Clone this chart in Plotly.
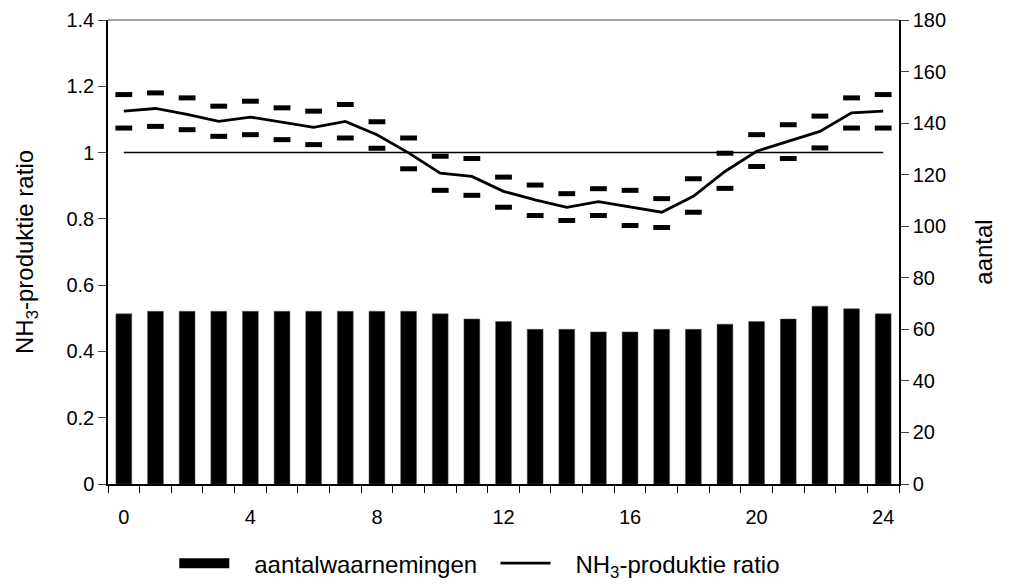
import plotly.graph_objects as go

hours = list(range(25))
aantal = [66, 67, 67, 67, 67, 67, 67, 67, 67, 67, 66, 64, 63, 60, 60, 59, 59, 60, 60, 62, 63, 64, 69, 68, 66]
ratio = [1.125, 1.133, 1.115, 1.094, 1.107, 1.091, 1.076, 1.094, 1.054, 0.999, 0.938, 0.928, 0.883,
         0.857, 0.835, 0.852, 0.837, 0.820, 0.868, 0.943, 1.004, 1.034, 1.064, 1.120, 1.125]
upper = [1.175, 1.180, 1.165, 1.140, 1.155, 1.135, 1.125, 1.145, 1.093, 1.044, 0.989, 0.982, 0.926,
         0.902, 0.876, 0.891, 0.886, 0.861, 0.921, 0.998, 1.054, 1.084, 1.110, 1.165, 1.175]
lower = [1.074, 1.079, 1.069, 1.049, 1.054, 1.039, 1.024, 1.044, 1.013, 0.951, 0.886, 0.871, 0.835,
         0.810, 0.795, 0.810, 0.780, 0.774, 0.820, 0.892, 0.958, 0.982, 1.014, 1.074, 1.074]
reference = [1.0] * 25
xtick_vals = [0, 4, 8, 12, 16, 20, 24]

FONT = "Liberation Sans, Arial, sans-serif"
GAP = "\u00a0\u00a0\u00a0"

fig = go.Figure()
fig.add_trace(go.Bar(x=hours, y=aantal, name="aantalwaarnemingen", yaxis="y", showlegend=False,
                     marker=dict(color="black", line=dict(color="#555", width=0.5))))
# legend proxy for the bar series (wide black rectangle swatch)
fig.add_trace(go.Scatter(x=[None], y=[None], yaxis="y", mode="lines",
                         name=GAP + "aantalwaarnemingen" + "\u00a0\u00a0",
                         line=dict(color="black", width=14)))
fig.add_trace(go.Scatter(x=hours, y=reference, yaxis="y2", mode="lines", showlegend=False,
                         line=dict(color="black", width=1.5), hoverinfo="skip"))
fig.add_trace(go.Scatter(x=hours, y=upper, yaxis="y2", mode="markers", showlegend=False,
                         marker=dict(symbol="line-ew", size=12, color="black",
                                     line=dict(color="black", width=5))))
fig.add_trace(go.Scatter(x=hours, y=lower, yaxis="y2", mode="markers", showlegend=False,
                         marker=dict(symbol="line-ew", size=12, color="black",
                                     line=dict(color="black", width=5))))
fig.add_trace(go.Scatter(x=hours, y=ratio, yaxis="y2", mode="lines",
                         name=GAP + "NH<sub>3</sub>-produktie ratio",
                         line=dict(color="black", width=2.8)))

fig.update_layout(
    width=1014, height=584,
    margin=dict(l=108, r=115, t=20, b=100),
    paper_bgcolor="white", plot_bgcolor="white",
    font=dict(family=FONT, size=20, color="black"),
    bargap=0.5,
    xaxis=dict(range=[-0.5, 24.5], tickmode="array", tickvals=xtick_vals,
               ticks="", showgrid=False, zeroline=False, automargin=False,
               showline=True, linecolor="black", linewidth=1.5,
               ticklabelstandoff=14,
               minor=dict(tick0=-0.5, dtick=1, ticks="outside", ticklen=7,
                          tickcolor="black", showgrid=False),
               tickfont=dict(size=20)),
    yaxis=dict(side="right", range=[0, 180], dtick=20, ticks="outside", ticklen=8,
               showgrid=False, zeroline=False, showline=True, linecolor="black", linewidth=1.5,
               automargin=False,
               title=dict(text="aantal", font=dict(size=24), standoff=30),
               tickfont=dict(size=20)),
    yaxis2=dict(overlaying="y", side="left", range=[0, 1.4], dtick=0.2, ticks="outside", ticklen=8,
                showgrid=False, zeroline=False, showline=True, linecolor="black", linewidth=1.5,
                automargin=False,
                title=dict(text="NH<sub>3</sub>-produktie ratio", font=dict(size=24), standoff=26),
                tickfont=dict(size=20)),
    legend=dict(orientation="h", x=0.47, xanchor="center", yref="container", y=0.035, yanchor="middle",
                font=dict(size=24), bgcolor="rgba(0,0,0,0)", itemwidth=50),
    shapes=[dict(type="line", xref="paper", yref="paper", x0=0, x1=1, y0=1, y1=1,
                 line=dict(color="#888", width=1.5))],
)

fig.write_html("out.html")
